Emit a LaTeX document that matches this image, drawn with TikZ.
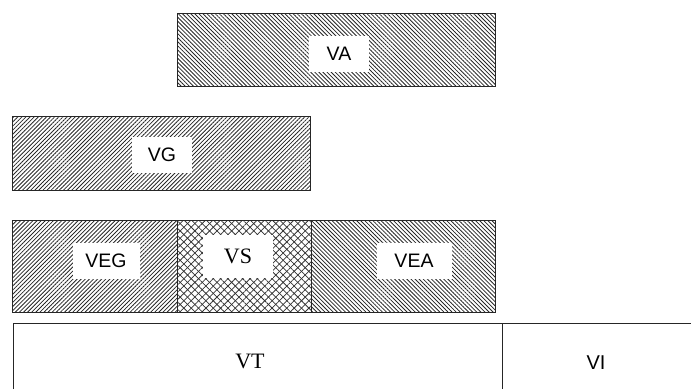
\documentclass[tikz,border=0pt]{standalone}
\usepackage{fontspec}
\setmainfont{Liberation Serif}
\newfontfamily\arialf{Liberation Sans}
\usetikzlibrary{patterns.meta}
\tikzset{
  box/.style={draw=black!85, line width=0.9pt, inner sep=0pt, outer sep=0pt},
  hatchNW/.style={box, pattern={Lines[angle=-45,distance=2.9pt,line width=0.8pt]}, pattern color=black!85},
  hatchNE/.style={box, pattern={Lines[angle=45,distance=2.9pt,line width=0.8pt]}, pattern color=black!85},
  cross/.style={box, pattern={Lines[angle=45,distance=5.2pt,line width=0.75pt]}, pattern color=black!80},
  lab/.style={fill=white, inner sep=0pt, font=\arialf\fontsize{19.5}{22}\selectfont},
  slab/.style={fill=white, inner sep=0pt, font=\fontsize{22}{24}\selectfont},
  edge/.style={draw=black!85, line width=0.9pt}
}
\begin{document}
\begin{tikzpicture}[x=1pt,y=-1pt]
\useasboundingbox (0,0) rectangle (691,389);
% VA
\node[hatchNW, minimum width=318pt, minimum height=73pt] (va) at (336,49.5) {};
\node[lab, minimum width=60pt, minimum height=36pt] (val) at (339,54) {VA};
% VG
\node[hatchNE, minimum width=298pt, minimum height=74pt] (vg) at (161,153) {};
\node[lab, minimum width=60pt, minimum height=36pt] (vgl) at (162,155) {VG};
% row
\node[hatchNE, minimum width=165pt, minimum height=92pt] (veg) at (94.5,266) {};
\node[cross, minimum width=134pt, minimum height=92pt] (vs) at (244,266) {};
\path[pattern={Lines[angle=-45,distance=5.2pt,line width=0.75pt]}, pattern color=black!80] (vs.north west) rectangle (vs.south east);
\draw[edge] (vs.north west) rectangle (vs.south east);
\node[hatchNW, minimum width=184pt, minimum height=92pt] (vea) at (403,266) {};
\node[lab, minimum width=67pt, minimum height=36pt] (vegl) at (106,261) {VEG};
\node[slab, minimum width=70pt, minimum height=43pt] (vsl) at (238,256) {VS};
\node[lab, minimum width=75pt, minimum height=36pt] (veal) at (414,261) {VEA};
% bottom
\coordinate (tl) at (13,323);
\coordinate (tr) at (691,323);
\coordinate (bl) at (13,389);
\coordinate (dt) at (502,323);
\coordinate (db) at (502,389);
\draw[edge] (bl) -- (tl) -- (tr);
\draw[edge] (dt) -- (db);
\node[font=\fontsize{22}{24}\selectfont, inner sep=0pt] (vt) at (250,361) {VT};
\node[font=\arialf\fontsize{20}{22}\selectfont, inner sep=0pt] (vi) at (596,363) {VI};
\end{tikzpicture}
\end{document}
